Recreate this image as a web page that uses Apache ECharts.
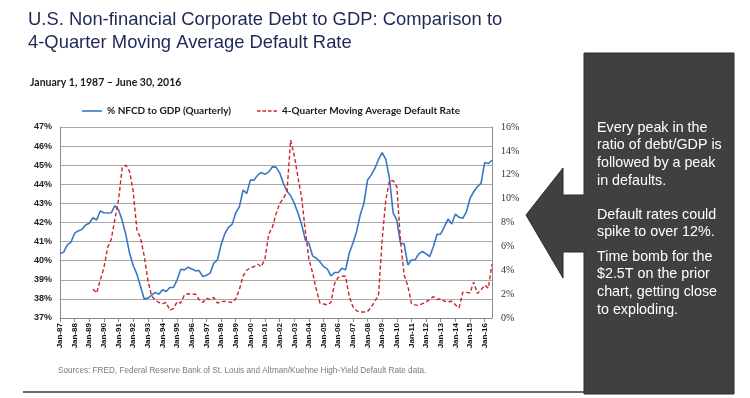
<!DOCTYPE html>
<html>
<head>
<meta charset="utf-8">
<script src="https://cdn.jsdelivr.net/npm/echarts@6/dist/echarts.min.js"></script>
<style>
  html, body { margin: 0; padding: 0; background: #fff; }
  #main { width: 750px; height: 398px; }
</style>
</head>
<body>
<div id="main"></div>
<script>
var years = [87, 88, 89, 90, 91, 92, 93, 94, 95, 96, 97, 98, 99, 0, 1, 2, 3, 4, 5, 6, 7, 8, 9, 10, 11, 12, 13, 14, 15, 16];
var months = ['Jan', 'Apr', 'Jul', 'Oct'];

// % NFCD to GDP, quarterly, 1987Q1 .. 2016Q3
var debtToGdp = [
  40.36, 40.45, 40.83, 40.97, 41.44, 41.56, 41.64, 41.87, 41.96, 42.25,
  42.13, 42.60, 42.51, 42.50, 42.51, 42.88, 42.65, 42.10, 41.35, 40.40,
  39.75, 39.30, 38.65, 38.00, 38.04, 38.18, 38.34, 38.25, 38.48, 38.39,
  38.60, 38.60, 39.00, 39.55, 39.52, 39.66, 39.57, 39.47, 39.48, 39.17,
  39.24, 39.35, 39.87, 40.04, 40.83, 41.40, 41.75, 41.90, 42.50, 42.82,
  43.69, 43.52, 44.22, 44.22, 44.48, 44.62, 44.52, 44.65, 44.91, 44.90,
  44.60, 44.05, 43.64, 43.40, 43.00, 42.50, 41.90, 41.10, 40.90, 40.25,
  40.13, 39.95, 39.69, 39.57, 39.20, 39.38, 39.38, 39.60, 39.52, 40.39,
  40.91, 41.52, 42.39, 42.99, 44.22, 44.48, 44.83, 45.30, 45.66, 45.30,
  44.30, 42.50, 42.13, 40.91, 40.88, 39.78, 40.04, 40.04, 40.36, 40.48,
  40.36, 40.22, 40.74, 41.38, 41.40, 41.78, 42.18, 41.92, 42.44, 42.27,
  42.22, 42.56, 43.26, 43.61, 43.87, 44.05, 45.14, 45.09, 45.26
];

// 4-quarter moving average default rate (%)
var defaultRate = [
  null, null, null, null, null, null, null, null, null, 2.42,
  2.09, 3.20, 4.20, 5.90, 6.60, 8.30, 9.90, 12.60, 12.80, 12.30,
  10.60, 7.40, 6.70, 5.20, 3.20, 1.85, 1.50, 1.30, 1.20, 1.30,
  0.65, 0.80, 1.35, 1.25, 1.95, 2.03, 1.98, 2.00, 1.55, 1.30,
  1.65, 1.55, 1.72, 1.25, 1.39, 1.39, 1.35, 1.30, 1.60, 2.40,
  3.50, 4.00, 4.20, 4.30, 4.50, 4.30, 5.00, 7.00, 7.60, 8.70,
  9.60, 10.00, 10.60, 14.90, 13.60, 11.80, 10.10, 7.30, 4.90, 3.80,
  2.40, 1.25, 1.17, 1.10, 1.30, 2.90, 3.40, 3.50, 3.50, 1.80,
  0.95, 0.60, 0.50, 0.50, 0.55, 0.90, 1.40, 1.90, 6.60, 9.90,
  11.50, 11.50, 11.00, 6.50, 3.60, 2.70, 1.20, 1.10, 1.05, 1.20,
  1.35, 1.55, 1.80, 1.55, 1.60, 1.40, 1.35, 1.40, 1.10, 0.85,
  2.15, 2.15, 2.10, 3.00, 2.05, 2.35, 2.75, 2.50, 4.50
];

var calloutParas = [
  'Every peak in the\nratio of debt/GDP is\nfollowed by a peak\nin defaults.',
  'Default rates could\nspike to over 12%.',
  'Time bomb for the\n$2.5T on the prior\nchart, getting close\nto exploding.'
];

var quarters = [];
years.forEach(function (y) {
  months.forEach(function (m) {
    quarters.push(m + '-' + (y < 10 ? '0' + y : y));
  });
});
quarters = quarters.slice(0, debtToGdp.length);

var chart = echarts.init(document.getElementById('main'));

// legend samples: a solid stroke and four dashes
var solidIcon = 'path://M0,0H20V1.6H0Z';
var dashIcon = 'path://M0,0H3.5V1.6H0Z M5.5,0H9V1.6H5.5Z M11,0H14.5V1.6H11Z M16.5,0H20V1.6H16.5Z';

var option = {
  animation: false,
  textStyle: { fontFamily: 'Liberation Sans' },
  grid: { left: 60, right: 258, top: 127, bottom: 80, containLabel: false },
  legend: {
    left: 77,
    top: 101,
    itemWidth: 20,
    itemHeight: 2,
    itemGap: 26,
    textStyle: { fontFamily: 'Lato', fontWeight: 'bold', fontSize: 10, color: '#1a1a1a' },
    data: [
      { name: '% NFCD to GDP (Quarterly)', icon: solidIcon },
      { name: '4-Quarter Moving Average Default Rate', icon: dashIcon }
    ]
  },
  xAxis: {
    type: 'category',
    data: quarters,
    boundaryGap: false,
    axisLine: { lineStyle: { color: '#8c8c8c' } },
    axisTick: { interval: 3, length: 4, lineStyle: { color: '#8c8c8c' } },
    axisLabel: {
      interval: 3, rotate: 90, margin: 5,
      fontFamily: 'Liberation Sans', fontWeight: 'bold', fontSize: 8, color: '#111'
    }
  },
  yAxis: [{
    type: 'value',
    min: 37, max: 47, interval: 1,
    axisLine: { show: true, lineStyle: { color: '#8c8c8c' } },
    axisTick: { show: false },
    splitLine: { lineStyle: { color: '#a8a8a8', width: 1 } },
    axisLabel: {
      formatter: '{value}%', margin: 8,
      fontFamily: 'Liberation Sans', fontWeight: 'bold', fontSize: 9, color: '#222'
    }
  }, {
    type: 'value',
    min: 0, max: 16, interval: 2,
    position: 'right',
    axisLine: { show: true, lineStyle: { color: '#8c8c8c' } },
    axisTick: { show: false },
    splitLine: { show: false },
    axisLabel: {
      formatter: '{value}%', margin: 9,
      fontFamily: 'Liberation Serif', fontSize: 10, color: '#333'
    }
  }],
  series: [{
    name: '% NFCD to GDP (Quarterly)',
    type: 'line',
    yAxisIndex: 0,
    data: debtToGdp,
    symbol: 'none',
    lineStyle: { color: '#3b76c3', width: 1.6 },
    itemStyle: { color: '#3b76c3' }
  }, {
    name: '4-Quarter Moving Average Default Rate',
    type: 'line',
    yAxisIndex: 1,
    data: defaultRate,
    symbol: 'none',
    lineStyle: { color: '#c8242a', width: 1.4, type: [4, 2.5] },
    itemStyle: { color: '#c8242a' }
  }],
  graphic: [{
    type: 'text', left: 28, top: 9,
    style: {
      text: 'U.S. Non-financial Corporate Debt to GDP: Comparison to\n4-Quarter Moving Average Default Rate',
      font: '18.4px "Liberation Sans"', fill: '#1f2757', lineHeight: 22.5
    }
  }, {
    type: 'text', left: 30, top: 77,
    style: { text: 'January 1, 1987 \u2013 June 30, 2016', font: 'bold 10.5px Lato', fill: '#1a1a1a' }
  }, {
    type: 'text', left: 58, top: 367,
    style: {
      text: 'Sources: FRED, Federal Reserve Bank of St. Louis and Altman/Kuehne High-Yield Default Rate data.',
      font: '8.2px "Liberation Sans"', fill: '#7a7a7a'
    }
  }, {
    type: 'line',
    shape: { x1: 23, y1: 392, x2: 584, y2: 392 },
    style: { stroke: '#3a3a3a', lineWidth: 1.5 }
  }, {
    // callout box with arrow pointing at the chart
    type: 'polygon',
    shape: {
      points: [[526, 215], [563, 168], [563, 195], [584, 195], [584, 53], [734, 53],
               [734, 394], [584, 394], [584, 252], [563, 252], [563, 278]]
    },
    style: { fill: '#404040', stroke: '#2b2b2b', lineWidth: 1 }
  }, {
    type: 'text', left: 597, top: 119,
    style: { text: calloutParas[0], font: '14.3px "Liberation Sans"', fill: '#ffffff', lineHeight: 17.7 }
  }, {
    type: 'text', left: 597, top: 206,
    style: { text: calloutParas[1], font: '14.3px "Liberation Sans"', fill: '#ffffff', lineHeight: 17.7 }
  }, {
    type: 'text', left: 597, top: 248,
    style: { text: calloutParas[2], font: '14.3px "Liberation Sans"', fill: '#ffffff', lineHeight: 17.7 }
  }]
};

chart.setOption(option);
</script>
</body>
</html>
